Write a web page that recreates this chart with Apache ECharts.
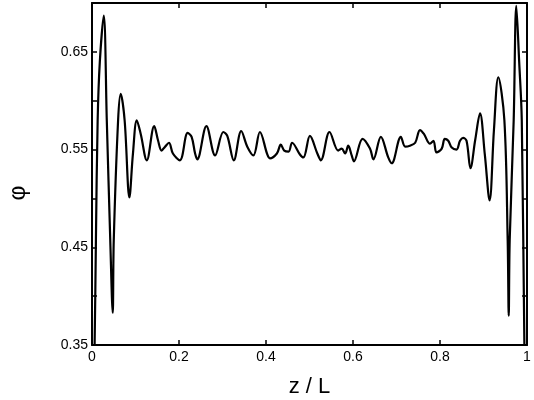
<!DOCTYPE html>
<html>
<head>
<meta charset="utf-8">
<script src="https://cdn.jsdelivr.net/npm/echarts@6/dist/echarts.min.js"></script>
<style>
html,body{margin:0;padding:0;background:#fff;}
#c{width:534px;height:400px;}
</style>
</head>
<body>
<div id="c"></div>
<script>
const zValues = [0.000,0.006,0.009,0.013,0.018,0.027,0.034,0.042,0.0476,0.050,0.060,0.066,0.075,0.086,0.094,0.103,0.112,0.126,0.143,0.152,0.160,0.168,0.177,0.186,0.202,0.220,0.229,0.237,0.242,0.263,0.283,0.302,0.311,0.326,0.343,0.357,0.371,0.386,0.403,0.409,0.425,0.434,0.442,0.452,0.460,0.478,0.486,0.501,0.518,0.526,0.546,0.566,0.574,0.582,0.589,0.597,0.602,0.622,0.639,0.647,0.664,0.681,0.689,0.710,0.720,0.731,0.743,0.754,0.763,0.777,0.785,0.792,0.804,0.811,0.819,0.827,0.838,0.846,0.853,0.861,0.870,0.881,0.892,0.903,0.914,0.924,0.934,0.948,0.9556,0.958,0.9602,0.9694,0.9754,0.982,0.988,0.994,1.000];
const phiValues = [0.22,0.35,0.457,0.58,0.64,0.687,0.58,0.457,0.383,0.457,0.58,0.607,0.58,0.501,0.545,0.580,0.566,0.539,0.574,0.559,0.549,0.553,0.557,0.546,0.539,0.567,0.563,0.546,0.540,0.574,0.544,0.568,0.564,0.539,0.569,0.553,0.544,0.568,0.545,0.541,0.546,0.555,0.549,0.548,0.557,0.545,0.542,0.564,0.546,0.539,0.568,0.549,0.551,0.546,0.554,0.544,0.538,0.561,0.551,0.540,0.563,0.542,0.536,0.563,0.553,0.554,0.557,0.570,0.566,0.556,0.559,0.547,0.551,0.561,0.559,0.552,0.550,0.559,0.562,0.559,0.531,0.560,0.587,0.545,0.498,0.570,0.624,0.58,0.457,0.380,0.457,0.58,0.697,0.64,0.58,0.35,0.22];
const xTicks = [0, 0.2, 0.4, 0.6, 0.8, 1];
const yLabelTicks = ['0.35', '0.45', '0.55', '0.65'];

const seriesData = zValues.map((z, i) => [z, phiValues[i]]);
const font = 'Liberation Sans, Arial, Helvetica, sans-serif';
const chart = echarts.init(document.getElementById('c'), null, {renderer: 'canvas'});
const axisLine = {show: true, onZero: false, lineStyle: {color: '#000', width: 2}};
const axisTick = {show: true, inside: true, length: 5, lineStyle: {color: '#000', width: 1.5}};
chart.setOption({
  animation: false,
  backgroundColor: '#fff',
  grid: {left: 92, right: 7, top: 3, bottom: 55, containLabel: false, outerBoundsMode: 'none'},
  xAxis: [{
    type: 'value', min: 0, max: 1, interval: 0.2, position: 'bottom',
    axisLine: axisLine, axisTick: axisTick, splitLine: {show: false},
    axisLabel: {color: '#000', fontFamily: font, fontSize: 14, margin: 5,
      formatter: v => { const t = xTicks.find(x => Math.abs(x - v) < 1e-6); return t === undefined ? '' : String(t); }},
    name: 'z / L', nameLocation: 'middle', nameGap: 31,
    nameTextStyle: {color: '#000', fontFamily: font, fontSize: 22}
  }, {
    type: 'value', min: 0, max: 1, interval: 0.2, position: 'top',
    axisLine: axisLine, axisTick: axisTick, axisLabel: {show: false}, splitLine: {show: false}
  }],
  yAxis: [{
    type: 'value', min: 0.35, max: 0.70, interval: 0.05, position: 'left',
    axisLine: axisLine, axisTick: axisTick, splitLine: {show: false},
    axisLabel: {color: '#000', fontFamily: font, fontSize: 14, margin: 4,
      formatter: v => { const s = v.toFixed(2); return yLabelTicks.includes(s) ? s : ''; }},
    name: 'φ', nameLocation: 'middle', nameGap: 62, nameRotate: 90,
    nameTextStyle: {color: '#000', fontFamily: font, fontSize: 23, padding: [0, 38, 0, 0]}
  }, {
    type: 'value', min: 0.35, max: 0.70, interval: 0.05, position: 'right',
    axisLine: axisLine, axisTick: axisTick, axisLabel: {show: false}, splitLine: {show: false}
  }],
  series: [{
    type: 'line', data: seriesData, xAxisIndex: 0, yAxisIndex: 0,
    showSymbol: false, smooth: 0.35, clip: true,
    lineStyle: {color: '#000', width: 2.2}
  }]
});
</script>
</body>
</html>
